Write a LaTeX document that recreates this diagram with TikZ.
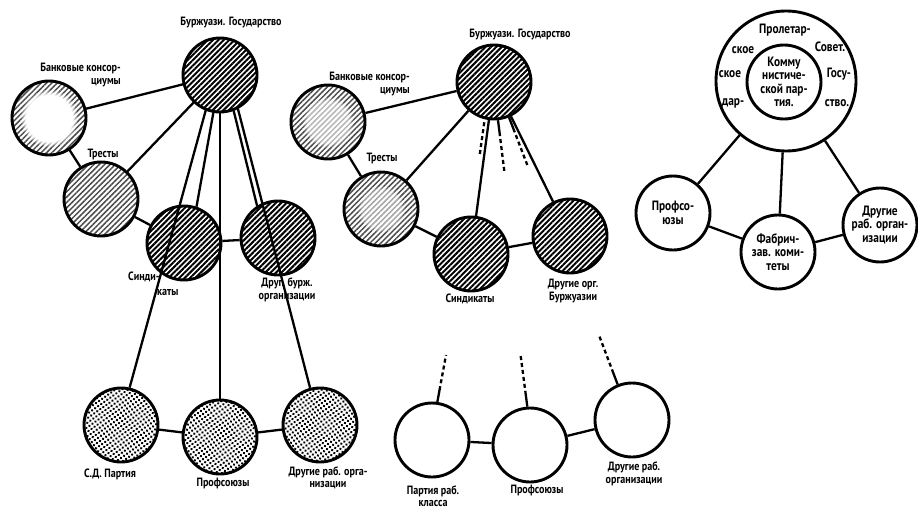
\documentclass[tikz,border=0pt]{standalone}
\usepackage{fontspec}
\setmainfont{PT Sans}[FakeStretch=0.84]
\usetikzlibrary{patterns.meta,fadings}

\begin{document}
\begin{tikzpicture}[
      x=1pt, y=-1pt,
      org/.style={circle, draw, line width=2.9pt, minimum size=74pt, inner sep=0pt},
      bourg/.style={org, pattern={Lines[angle=45,distance=3.8pt,line width=2pt]}},
      soft/.style={org, pattern={Lines[angle=45,distance=3.8pt,line width=1.5pt]}, pattern color=black!70},
      work/.style={org, pattern={Dots[angle=35,distance=3.7pt,radius=1.35pt]}},
      free/.style={org, fill=white},
      lbl/.style={font=\bfseries\fontsize{12}{12.5}\selectfont, align=center, inner sep=0pt},
      lblbig/.style={font=\bfseries\fontsize{13.5}{13.5}\selectfont, align=center, inner sep=0pt},
      link/.style={line width=2.3pt},
      stub/.style={line width=2.3pt, dash pattern=on 16pt off 3pt on 4pt off 3pt on 4pt off 3pt on 4pt off 3pt on 4pt off 3pt on 4pt off 60pt},
      glow/.style={white, path fading=circle with fuzzy edge 20 percent},
    ]
    \useasboundingbox (0,0) rectangle (918,511);

    \node[bourg] (st1) at (220,75) {};
    \node[soft] (bk1) at (49,118) {};
    \node[soft] (tr1) at (101,199) {};
    \node[bourg] (sy1) at (184,243) {};
    \node[bourg] (ob1) at (278,238) {};
    \node[work] (sd1) at (121,425) {};
    \node[work] (pf1) at (220,437) {};
    \node[work] (ow1) at (320,425) {};
    \fill[glow] (bk1.center) circle[radius=29];

    \node[lbl] (st1t) at (231,23) {Буржуази. Государство};
    \node[lbl, align=right, anchor=north east] (bk1t) at (121,63) {Банковые консор-\\циумы};
    \node[lbl] (tr1t) at (103,154) {Тресты};
    \node[lbl, anchor=west] (sy1t) at (128,277) {Синди-};
    \node[lbl, anchor=west] (sy1u) at (157,292) {каты};
    \node[lbl] (ob1t) at (287,290) {Друг. бурж.\\организации};
    \node[lbl] (sd1t) at (110,474) {С.Д. Партия};
    \node[lbl] (pf1t) at (223,483) {Профсоюзы};
    \node[lbl] (ow1t) at (328,478) {Другие раб. орга-\\низации};

    \draw[link] (st1) -- (bk1);
    \draw[link] (st1) -- (tr1);
    \draw[link] (bk1) -- (tr1);
    \draw[link] (tr1) -- (sy1);
    \draw[link] (sy1) -- (ob1);
    \draw[link] (st1.260) -- (sy1.71);
    \draw[link] (st1.248) -- (sd1.77);
    \draw[link] (st1) -- (pf1);
    \draw[link] (st1.291) -- (ob1.123);
    \draw[link] (st1.298) -- (ow1.105);
    \draw[link] (sd1) -- (pf1);
    \draw[link] (pf1) -- (ow1);

    \node[bourg] (st2) at (494,82) {};
    \node[soft] (bk2) at (328,122) {};
    \node[soft] (tr2) at (381,209) {};
    \node[bourg] (sy2) at (471,254) {};
    \node[bourg] (ob2) at (570,236) {};
    \node[free] (pr2) at (432,440) {};
    \node[free] (pf2) at (530,445) {};
    \node[free] (ow2) at (632,420) {};
    \fill[glow, opacity=0.6] (bk2.center) circle[radius=26];
    \fill[glow, opacity=0.5] (tr2.center) circle[radius=24];

    \node[lbl] (st2t) at (520,35) {Буржуази. Государство};
    \node[lbl, align=right, anchor=north east] (bk2t) at (410,72) {Банковые консор-\\циумы};
    \node[lbl] (tr2t) at (382,158) {Тресты};
    \node[lbl] (sy2t) at (470,299) {Синдикаты};
    \node[lbl] (ob2t) at (573,291) {Другие орг.\\Буржуазии};
    \node[lbl] (pr2t) at (433,496) {Партия раб.\\класса};
    \node[lbl] (pf2t) at (537,490) {Профсоюзы};
    \node[lbl] (ow2t) at (634,474) {Другие раб.\\организации};

    \coordinate (cu1) at (477,174);
    \coordinate (cu2) at (506,185);
    \coordinate (cu3) at (530,172);
    \coordinate (cu4) at (446,355);
    \coordinate (cu5) at (519,343);
    \coordinate (cu6) at (594,322);

    \draw[link] (st2) -- (bk2);
    \draw[link] (st2) -- (tr2);
    \draw[link] (bk2) -- (tr2);
    \draw[link] (tr2) -- (sy2);
    \draw[link] (sy2) -- (ob2);
    \draw[link] (st2) -- (sy2);
    \draw[link] (st2) -- (ob2);
    \draw[stub, dash phase=16pt] (st2.256) -- (cu1);
    \draw[stub] (st2.276) -- (cu2);
    \draw[stub] (st2.293) -- (cu3);
    \draw[stub] (pr2.82) -- (cu4);
    \draw[stub] (pf2.94) -- (cu5);
    \draw[stub] (ow2.112) -- (cu6);
    \draw[link] (pr2) -- (pf2);
    \draw[link] (pf2) -- (ow2);

    \node[org, minimum size=140pt] (ps3) at (786,81) {};
    \node[org, lblbig] (cp3) at (784,82) {Комму\\нистиче-\\ской пар-\\тия.};
    \node[lblbig] (ps3a) at (785,30) {Пролетар-};
    \node[lblbig] (ps3b) at (743,50) {ское};
    \node[lblbig] (ps3c) at (830,47) {Совет.};
    \node[lblbig] (ps3d) at (730,74) {ское};
    \node[lblbig] (ps3e) at (839,74) {Госу-};
    \node[lblbig] (ps3f) at (733,103) {дар-};
    \node[lblbig] (ps3g) at (837,103) {ство.};
    \node[org, lblbig] (pf3) at (673,213) {Профсо-\\юзы};
    \node[org, lblbig] (fz3) at (778,252) {Фабрич-\\зав. коми-\\теты};
    \node[org, lblbig] (ow3) at (880,225) {Другие\\раб. орган-\\изации};

    \draw[link] (ps3) -- (pf3);
    \draw[link] (ps3) -- (fz3);
    \draw[link] (ps3) -- (ow3);
    \draw[link] (pf3) -- (fz3);
    \draw[link] (fz3) -- (ow3);
  \end{tikzpicture}
\end{document}
